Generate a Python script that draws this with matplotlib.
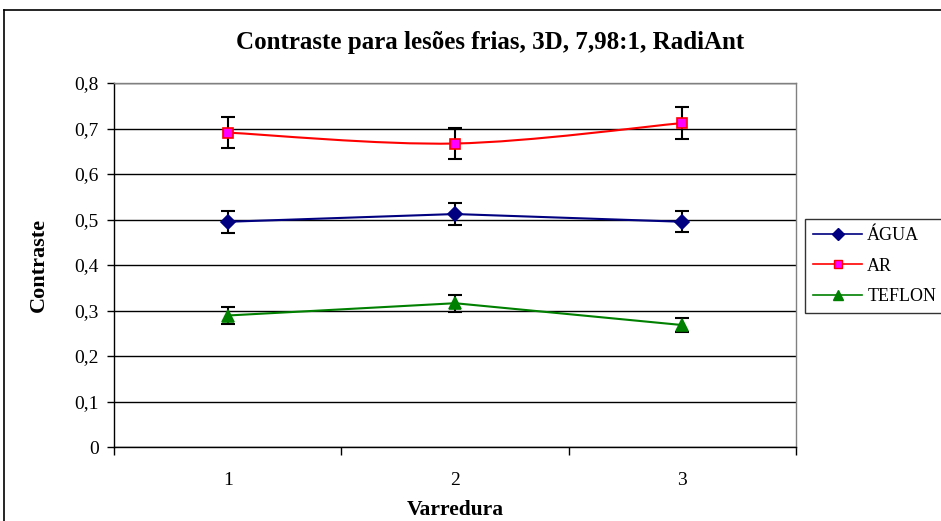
import matplotlib
matplotlib.use("Agg")
import matplotlib.pyplot as plt
from matplotlib.path import Path
from matplotlib.patches import PathPatch
from matplotlib.lines import Line2D

plt.rcParams['font.family'] = ['Liberation Serif', 'DejaVu Serif']

# Data
varredura = [1, 2, 3]
x_labels = ['1', '2', '3']
agua = [0.495, 0.512, 0.495]
agua_err = [0.024, 0.025, 0.023]
ar = [0.691, 0.667, 0.712]
ar_err = [0.034, 0.034, 0.036]
teflon = [0.289, 0.316, 0.268]
teflon_err = [0.018, 0.019, 0.015]
y_ticks = [0, 0.1, 0.2, 0.3, 0.4, 0.5, 0.6, 0.7, 0.8]
y_labels = ['0', '0,1', '0,2', '0,3', '0,4', '0,5', '0,6', '0,7', '0,8']


def smooth_path(xs, ys):
    # Excel-like smoothed line: Catmull-Rom segments as cubic Bezier
    pts = list(zip(xs, ys))
    verts = [pts[0]]
    codes = [Path.MOVETO]
    n = len(pts)
    for i in range(n - 1):
        p0 = pts[i - 1] if i > 0 else pts[i]
        p1 = pts[i]
        p2 = pts[i + 1]
        p3 = pts[i + 2] if i + 2 < n else pts[i + 1]
        c1 = (p1[0] + (p2[0] - p0[0]) / 6, p1[1] + (p2[1] - p0[1]) / 6)
        c2 = (p2[0] - (p3[0] - p1[0]) / 6, p2[1] - (p3[1] - p1[1]) / 6)
        verts += [c1, c2, p2]
        codes += [Path.CURVE4] * 3
    return Path(verts, codes)


fig = plt.figure(figsize=(9.41, 5.21), dpi=100)
ax = fig.add_axes([114 / 941, 1 - 447 / 521, 682 / 941, 364 / 521])

series = [
    ('ÁGUA', agua, agua_err, '#000080', 'D', '#000080', '#000080', 7.5, False),
    ('AR', ar, ar_err, '#FF0000', 's', '#FF00FF', '#FF0000', 7, True),
    ('TEFLON', teflon, teflon_err, '#008000', '^', '#008000', '#008000', 9, False),
]

handles = []
for name, vals, errs, color, mk, mfc, mec, ms, smooth in series:
    if smooth:
        ax.add_patch(PathPatch(smooth_path(varredura, vals), facecolor='none',
                               edgecolor=color, lw=1.5, zorder=3))
    else:
        ax.plot(varredura, vals, color=color, lw=1.5, zorder=3)
    ax.errorbar(varredura, vals, yerr=errs, fmt='none', ecolor='black',
                elinewidth=1.5, capsize=5, capthick=1.5, zorder=4)
    ax.plot(varredura, vals, linestyle='none', marker=mk, markersize=ms,
            markerfacecolor=mfc, markeredgecolor=mec, markeredgewidth=1.2,
            zorder=5)
    handles.append(Line2D([], [], color=color, lw=1.2, marker=mk,
                          markersize=ms * 0.85, markerfacecolor=mfc,
                          markeredgecolor=mec, label=name))

ax.set_xlim(0.5, 3.5)
ax.set_ylim(0, 0.8)
ax.set_yticks(y_ticks)
ax.set_yticklabels(y_labels, fontsize=14)
ax.set_xticks(varredura)
ax.set_xticklabels(x_labels, fontsize=14)
ax.tick_params(axis='x', which='major', length=0, pad=18)
ax.set_xticks([0.5, 1.5, 2.5, 3.5], minor=True)
ax.tick_params(axis='x', which='minor', length=6, width=1, direction='out')
ax.tick_params(axis='y', length=5, width=1, direction='out', pad=6)

ax.grid(axis='y', color='black', lw=1)
ax.set_axisbelow(True)
for side in ['top', 'right']:
    ax.spines[side].set_color('#808080')
    ax.spines[side].set_linewidth(1)
for side in ['left', 'bottom']:
    ax.spines[side].set_color('black')
    ax.spines[side].set_linewidth(1)

ax.set_xlabel('Varredura', fontsize=15.5, fontweight='bold', labelpad=8)
ax.set_ylabel('Contraste', fontsize=16, fontweight='bold', labelpad=18)
fig.text(490 / 941, 1 - 42 / 521, 'Contraste para lesões frias, 3D, 7,98:1, RadiAnt',
         ha='center', va='center', fontsize=18, fontweight='bold')

leg = fig.legend(handles=handles, loc='upper left',
                 bbox_to_anchor=(805 / 941, 1 - 219 / 521), fontsize=13,
                 frameon=True, fancybox=False, edgecolor='black',
                 handlelength=2.7, borderpad=0.45, labelspacing=0.75,
                 handletextpad=0.3, borderaxespad=0)
leg.get_frame().set_linewidth(1)

# outer chart border (only left and top visible)
fig.add_artist(Line2D([4 / 941, 4 / 941], [0, 1 - 10 / 521], color='black', lw=1.2))
fig.add_artist(Line2D([4 / 941, 1], [1 - 10 / 521, 1 - 10 / 521], color='black', lw=1.2))

fig.savefig('out.png', dpi=100)
